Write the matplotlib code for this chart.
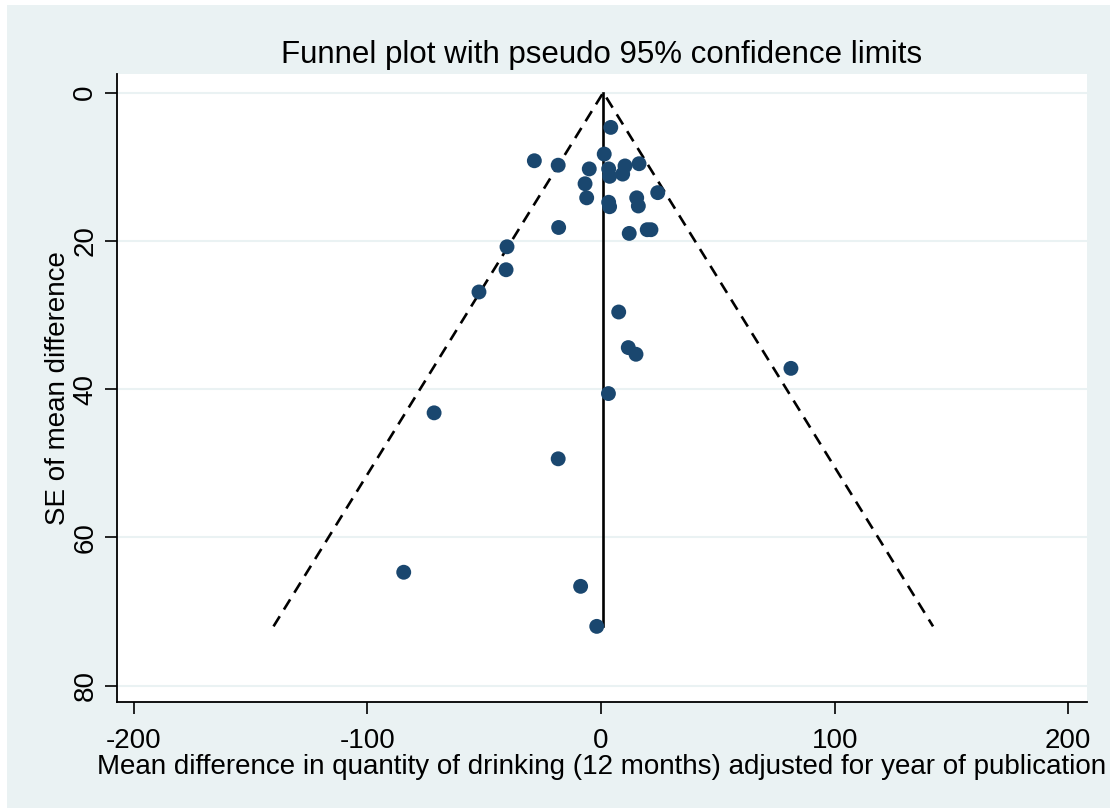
import numpy as np
import matplotlib
matplotlib.use("Agg")
import matplotlib.pyplot as plt
from matplotlib.patches import Rectangle

# Study-level effects: mean difference and its standard error
mean_diff = [4.2, -28.5, -18.3, 1.4, -5.0, 3.3, 10.3, 16.3, 9.3, 3.7,
             -6.8, -6.1, 24.3, 3.3, 3.7, 15.3, 16.0, -18.1, 12.1, 19.8,
             21.4, -40.2, -40.6, -52.2, 7.6, 11.7, 15.0, 81.3, 3.2, -71.4,
             -18.3, -84.4, -8.7, -1.8]
se_diff = [4.7, 9.2, 9.8, 8.3, 10.3, 10.3, 9.9, 9.6, 11.0, 11.3,
           12.3, 14.2, 13.5, 14.8, 15.4, 14.2, 15.3, 18.2, 19.0, 18.5,
           18.5, 20.8, 23.9, 26.9, 29.6, 34.4, 35.3, 37.2, 40.6, 43.2,
           49.4, 64.7, 66.6, 72.0]
pooled_md = 1.0

x_ticks = [-200, -100, 0, 100, 200]
y_ticks = [0, 20, 40, 60, 80]

plt.rcParams['font.family'] = ['Liberation Sans', 'DejaVu Sans']
plt.rcParams['axes.unicode_minus'] = False

bg = '#eaf2f3'
fig = plt.figure(figsize=(11.1, 8.08), dpi=100, facecolor='white')
# light outer graph region (with a thin white edge at top/left)
fig.patches.append(Rectangle((7 / 1110, 0), 1, 1 - 5 / 808, transform=fig.transFigure,
                             facecolor=bg, edgecolor='none', zorder=-10))

ax = fig.add_axes([117 / 1110, 1 - 702 / 808, (1087 - 117) / 1110, (702 - 74) / 808])
ax.set_facecolor('white')

se_max = max(se_diff)
z = 1.96
ax.plot([pooled_md - z * se_max, pooled_md, pooled_md + z * se_max],
        [se_max, 0, se_max], color='black', lw=1.9, ls=(0, (4.5, 3)), zorder=2)
ax.plot([pooled_md, pooled_md], [0, se_max], color='black', lw=1.9, zorder=2)

ax.scatter(mean_diff, se_diff, s=115, color='#1a476f', edgecolors='none', zorder=3)

ax.set_xlim(-207.1, 208.0)
ax.set_ylim(82.2, -2.5)
ax.set_xticks(x_ticks)
ax.set_yticks(y_ticks)
ax.set_yticklabels([str(v) for v in y_ticks], rotation=90, va='center')
ax.grid(axis='y', color='#eaf2f3', lw=1.5, zorder=0)
ax.set_axisbelow(True)

for s in ['top', 'right']:
    ax.spines[s].set_visible(False)
for s in ['left', 'bottom']:
    ax.spines[s].set_linewidth(1.3)
    ax.spines[s].set_color('black')
ax.tick_params(axis='both', direction='out', length=8.5, width=1.2, labelsize=20, colors='black')
ax.tick_params(axis='x', pad=10)
ax.tick_params(axis='y', pad=5)

ax.set_xlabel('Mean difference in quantity of drinking (12 months) adjusted for year of publication',
              fontsize=20, labelpad=0)
ax.set_ylabel('SE of mean difference', fontsize=20, labelpad=1)
ax.set_title('Funnel plot with pseudo 95% confidence limits', fontsize=22.5, pad=8)

fig.savefig('out.png', dpi=100, facecolor=fig.get_facecolor())
